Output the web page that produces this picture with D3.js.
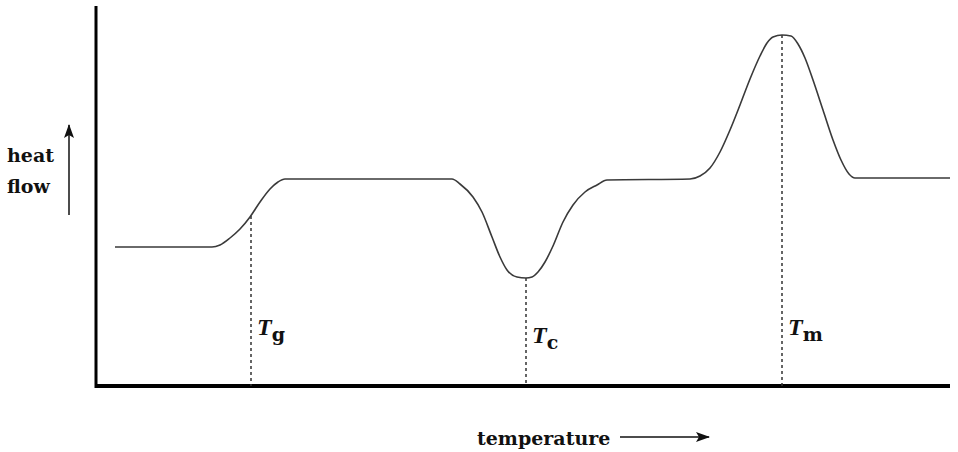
<!DOCTYPE html>
<html>
<head>
<meta charset="utf-8">
<script src="https://cdn.jsdelivr.net/npm/d3@7"></script>
<style>
  body { margin: 0; background: #fff; }
  .lbl { font-family: "DejaVu Serif", serif; font-weight: bold; font-size: 19px; fill: #111; }
  .tsym { font-family: "Liberation Serif", serif; font-style: italic; font-weight: bold; font-size: 24px; fill: #111; }
  .tsub { font-family: "DejaVu Serif", serif; font-style: normal; font-weight: bold; font-size: 19px; }
</style>
</head>
<body>
<div id="chart"></div>
<script>
// DSC curve: temperature (arbitrary units) vs heat flow (arbitrary units)
var temperature = [20, 117, 125, 135, 145, 155, 165, 175, 183, 190,
    357, 365, 378, 387, 397, 405, 412, 422, 431, 437, 443, 450, 458, 468, 478, 490, 502, 512,
    595, 605, 615, 625, 635, 645, 655, 665, 672, 678, 687, 696, 703, 710, 718, 728, 738, 746, 754, 760, 855];
var heatFlow = [139, 139, 141, 148, 157, 169, 184, 197, 204, 207,
    207, 202, 189, 174, 149, 129, 116, 109, 108, 109, 114, 124, 140, 164, 181, 194, 201, 206,
    207, 210, 218, 234, 256, 281, 307, 330, 343, 349, 351, 350, 342, 328, 306, 276, 246, 226, 212, 208, 208];

// transition markers
var markerNames = ["g", "c", "m"];
var markerTemp = [156, 431, 687];
var markerHeat = [170, 108, 351];
var markerLabelHeat = [51, 43, 51];

var svgWidth = 958;
var svgHeight = 452;

var svg = d3.select("#chart")
    .append("svg")
    .attr("width", svgWidth)
    .attr("height", svgHeight);

// scales
var xScale = d3.scaleLinear()
    .domain([0, 855])
    .range([95, 950]);
var yScale = d3.scaleLinear()
    .domain([0, 350])
    .range([386, 36]);

// axes (plain lines, no ticks)
svg.append("line")
    .attr("x1", xScale(0) + 1).attr("x2", xScale(0) + 1)
    .attr("y1", 6).attr("y2", yScale(0) + 2)
    .attr("stroke", "#000")
    .attr("stroke-width", 3);
svg.append("line")
    .attr("x1", xScale(0)).attr("x2", xScale(855))
    .attr("y1", yScale(0)).attr("y2", yScale(0))
    .attr("stroke", "#000")
    .attr("stroke-width", 4);

// dashed marker lines
markerTemp.forEach(function(t, i) {
    svg.append("line")
        .attr("x1", xScale(t)).attr("x2", xScale(t))
        .attr("y1", yScale(markerHeat[i])).attr("y2", yScale(0))
        .attr("stroke", "#333")
        .attr("stroke-width", 1.5)
        .attr("stroke-dasharray", "3,3");
    var lab = svg.append("text")
        .attr("x", xScale(t) + 6)
        .attr("y", yScale(markerLabelHeat[i]))
        .attr("class", "tsym")
        .text("T");
    lab.append("tspan")
        .attr("class", "tsub")
        .attr("dx", 0)
        .attr("dy", 6)
        .text(markerNames[i]);
});

// curve
var points = temperature.map(function(t, i) { return [t, heatFlow[i]]; });
var line = d3.line()
    .x(d => xScale(d[0]))
    .y(d => yScale(d[1]))
    .curve(d3.curveMonotoneX);
svg.append("path")
    .datum(points)
    .attr("d", line)
    .attr("fill", "none")
    .attr("stroke", "#3a3a3a")
    .attr("stroke-width", 1.6);

// arrow heads
svg.append("defs").append("marker")
    .attr("id", "arrow")
    .attr("viewBox", "0 0 14 10")
    .attr("refX", 13)
    .attr("refY", 5)
    .attr("markerWidth", 14)
    .attr("markerHeight", 10)
    .attr("markerUnits", "userSpaceOnUse")
    .attr("orient", "auto")
    .append("path")
    .attr("d", "M0,0 L14,5 L0,10 L3,5 Z")
    .attr("fill", "#111");

// y label
svg.append("text").attr("class", "lbl").attr("x", 7).attr("y", 162).text("heat");
svg.append("text").attr("class", "lbl").attr("x", 7).attr("y", 193).text("flow");
svg.append("line")
    .attr("x1", 69).attr("x2", 69)
    .attr("y1", 215).attr("y2", 125)
    .attr("stroke", "#111")
    .attr("stroke-width", 1.5)
    .attr("marker-end", "url(#arrow)");

// x label
svg.append("text").attr("class", "lbl").attr("x", 477).attr("y", 445).text("temperature");
svg.append("line")
    .attr("x1", 620).attr("x2", 709)
    .attr("y1", 437).attr("y2", 437)
    .attr("stroke", "#111")
    .attr("stroke-width", 1.5)
    .attr("marker-end", "url(#arrow)");
</script>
</body>
</html>
